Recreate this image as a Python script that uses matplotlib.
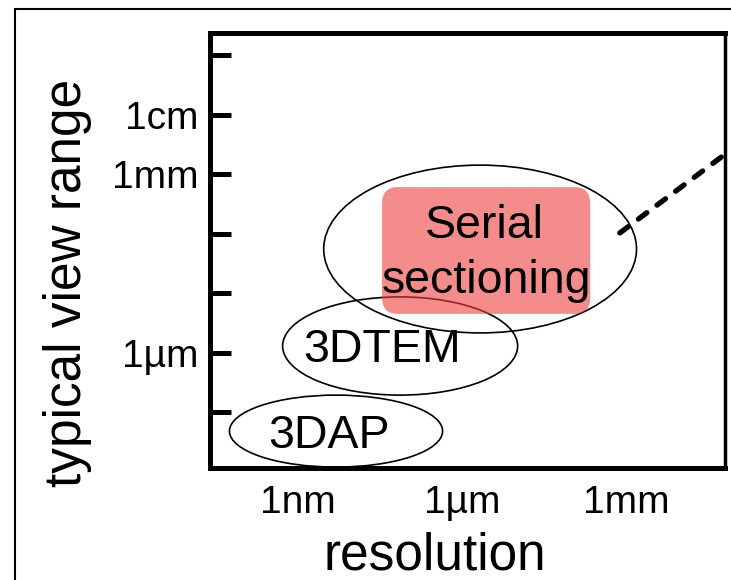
"""
View range vs. resolution map of 3D imaging techniques.
"""

import matplotlib
matplotlib.use("Agg")
import matplotlib.pyplot as plt
from matplotlib.patches import Ellipse, FancyBboxPatch, Rectangle

plt.rcParams["font.family"] = ["Liberation Sans", "DejaVu Sans"]

# axes are log10(metres)
techniques = ["3DAP", "3DTEM", "Serial sectioning"]
ell_x = [-8.30, -7.13, -5.67]        # resolution centre
ell_y = [-7.32, -5.89, -4.26]        # view range centre
ell_w = [3.89, 4.29, 5.71]           # decades of resolution
ell_h = [1.21, 1.65, 2.82]           # decades of view range

# highlighted serial sectioning box (x0, x1, y0, y1)
box_x = [-7.46, -3.66]
box_y = [-5.35, -3.22]

# dashed extrapolation line
trend_x = [-3.12, -1.0]
trend_y = [-3.99, -2.53]

yticks = [-1, -2, -3, -4, -5, -6, -7]
ytick_labels = ["", "1cm", "1mm", "", "", "1\u00b5m", ""]
xticks = [-9, -6, -3]
xtick_labels = ["1nm", "1\u00b5m", "1mm"]

fig = plt.figure(figsize=(7.31, 5.8), dpi=100)
ax = fig.add_axes([0.2873, 0.1931, 0.7045, 0.75])

for x, y, w, h in zip(ell_x, ell_y, ell_w, ell_h):
    ax.add_patch(Ellipse((x, y), w, h, facecolor="none",
                         edgecolor="black", linewidth=1.2, zorder=2))

ax.add_patch(FancyBboxPatch((box_x[0], box_y[0]), box_x[1] - box_x[0],
                            box_y[1] - box_y[0],
                            boxstyle="round,pad=0,rounding_size=0.28",
                            facecolor="#EE4040", edgecolor="none",
                            alpha=0.6, zorder=3))

ax.plot(trend_x, trend_y, color="black", linewidth=3.8,
        linestyle=(0, (2, 2.4)), dash_capstyle="round", zorder=4)

fs = 33.5
ax.text(-5.6, -4.08, "Serial", fontsize=fs, ha="center", va="baseline", zorder=5)
ax.text(-5.55, -5.0, "sectioning", fontsize=fs, ha="center", va="baseline", zorder=5)
ax.text(-7.46, -6.16, "3DTEM", fontsize=fs, ha="center", va="baseline", zorder=5)
ax.text(-8.43, -7.61, "3DAP", fontsize=fs, ha="center", va="baseline", zorder=5)

ax.set_xlim(-10.6, -1.2)
ax.set_ylim(-7.94, -0.63)

ax.set_yticks(yticks)
ax.set_yticklabels(ytick_labels)
ax.set_xticks(xticks)
ax.set_xticklabels(xtick_labels)
ax.tick_params(axis="y", direction="in", length=15, width=3.6,
               labelsize=28, pad=8)
ax.tick_params(axis="x", length=0, labelsize=28, pad=12)

for side in ["left", "bottom", "top"]:
    ax.spines[side].set_linewidth(3.6)
ax.spines["right"].set_linewidth(2.5)

fig.text(68 / 731, 1 - 283 / 580, "typical view range", fontsize=37,
         rotation=90, ha="center", va="center")
fig.text(435 / 731, 1 - 569 / 580, "resolution", fontsize=37,
         ha="center", va="baseline")

# outer frame
fig.patches.append(Rectangle((15 / 731, -0.1), 1.2, 0.1 + 1 - 9 / 580,
                             transform=fig.transFigure, fill=False,
                             edgecolor="black", linewidth=1.5))

fig.savefig("out.png", dpi=100)
plt.close(fig)
